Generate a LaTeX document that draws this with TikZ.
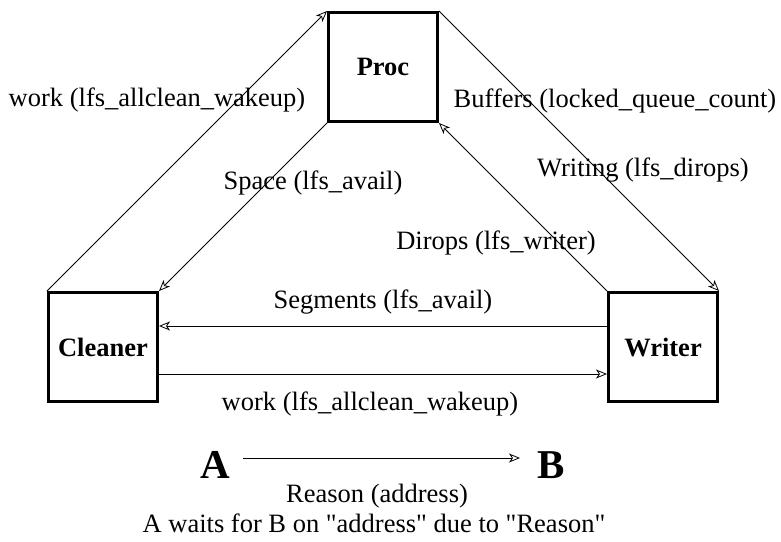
\documentclass[tikz,border=0pt]{standalone}
\usepackage{fontspec}
\setmainfont{Liberation Serif}[Ligatures=TeXOff]
\usetikzlibrary{arrows.meta}
\begin{document}
\begin{tikzpicture}[x=1pt,y=-1pt,
  box/.style={draw, line width=3pt, minimum width=109pt, minimum height=109pt, inner sep=0pt, font=\fontsize{26.5}{30}\selectfont\bfseries},
  lbl/.style={inner sep=0pt, font=\fontsize{26.5}{30}\selectfont},
  big/.style={inner sep=0pt, font=\fontsize{41}{46}\selectfont\bfseries},
  conn/.style={line width=0.8pt, -{Stealth[open, length=11pt, width=9pt, inset=3pt]}}]
\useasboundingbox (0,0) rectangle (781,541);
\node[box] (proc) at (383,67) {Proc};
\node[box] (cleaner) at (103,347) {Cleaner};
\node[box] (writer) at (663,347) {Writer};

\draw[conn] (cleaner.north west) -- (proc.north west);
\draw[conn] (proc.north east) -- (writer.north east);
\draw[conn] (proc.south west) -- (cleaner.north east);
\draw[conn] (writer.north west) -- (proc.south east);
\draw[conn] (writer.west |- 0,326) -- (cleaner.east |- 0,326);
\draw[conn] (cleaner.east |- 0,374) -- (writer.west |- 0,374);

\node[lbl] (l1) at (157,100) {work (lfs\_allclean\_wakeup)};
\node[lbl] (l2) at (615,101) {Buffers (locked\_queue\_count)};
\node[lbl] (l3) at (643,170) {Writing (lfs\_dirops)};
\node[lbl] (l4) at (313,183) {Space (lfs\_avail)};
\node[lbl] (l5) at (496,243) {Dirops (lfs\_writer)};
\node[lbl] (l6) at (383,302) {Segments (lfs\_avail)};
\node[lbl] (l7) at (370,404) {work (lfs\_allclean\_wakeup)};

\node[big] (A) at (215,465) {A};
\node[big] (B) at (551,465) {B};
\coordinate (la) at (243,458);
\coordinate (lb) at (520,458);
\draw[conn] (la) -- (lb);
\node[lbl] (r) at (377,496) {Reason (address)};
\node[lbl] (w) at (374,523) {A waits for B on "address" due to "Reason"};
\end{tikzpicture}
\end{document}
